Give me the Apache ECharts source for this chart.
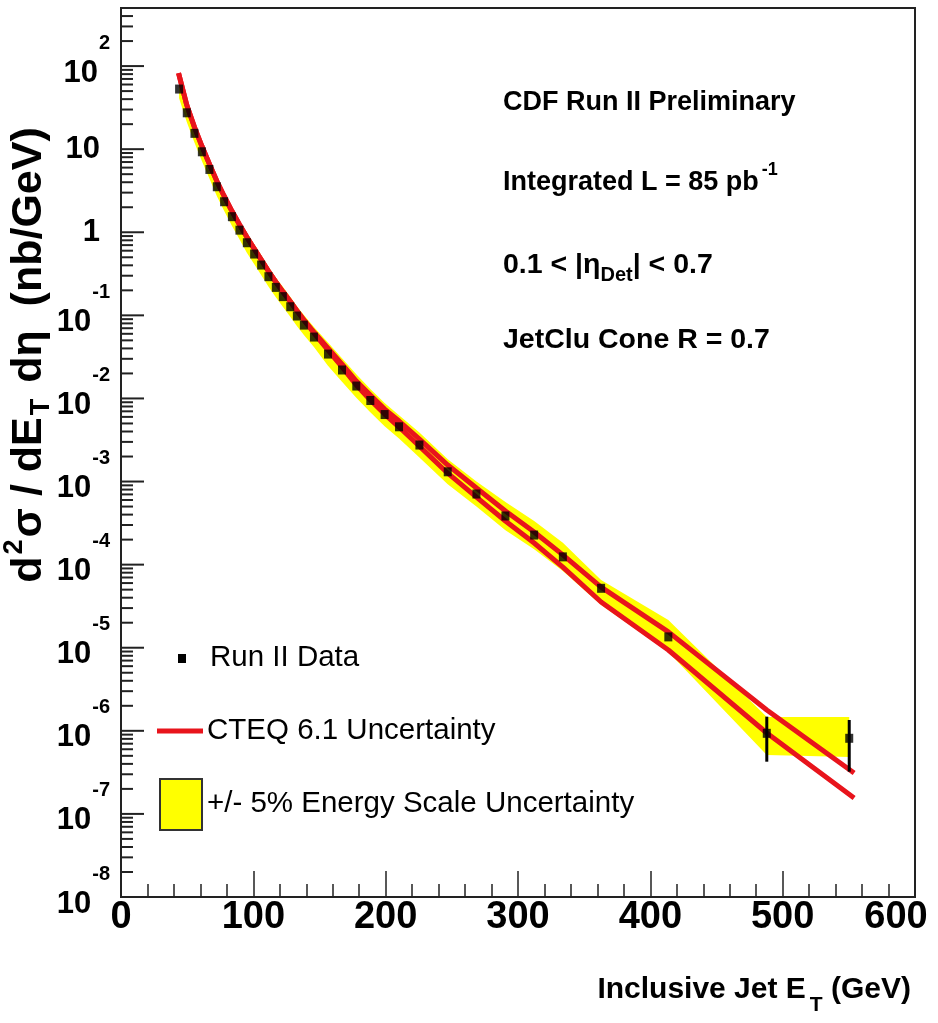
<!DOCTYPE html>
<html><head><meta charset="utf-8">
<script src="https://cdn.jsdelivr.net/npm/echarts@6/dist/echarts.min.js"></script>
<style>html,body{margin:0;padding:0;background:#fff}#c{width:938px;height:1023px}</style>
</head><body><div id="c"></div><script>
// ---- data ----
const xValues = [43.9, 49.7, 55.5, 61.1, 66.8, 72.4, 77.9, 83.8, 89.5, 95.1, 100.6, 105.9, 111.4, 117.0, 122.3, 127.9, 132.9, 138.2, 145.8, 156.4, 167.0, 177.8, 188.4, 199.2, 210.1, 225.5, 246.9, 268.6, 290.5, 312.2, 333.9, 362.8, 413.6, 488.0, 550.3];
const dataValues = [52.9, 27.4, 15.5, 9.3, 5.7, 3.53, 2.33, 1.54, 1.06, 0.748, 0.547, 0.403, 0.292, 0.217, 0.168, 0.127, 0.0982, 0.0763, 0.0548, 0.0342, 0.0220, 0.0141, 0.00944, 0.00640, 0.00456, 0.00275, 0.00131, 7.08e-4, 3.85e-4, 2.27e-4, 1.24e-4, 5.19e-5, 1.35e-5, 9.33e-7, 8.13e-7];
const errLow  = [null,null,null,null,null,null,null,null,null,null,null,null,null,null,null,null,null,null,null,null,null,null,null,null,null,null,null,null,null,null,null,null,null, 4.25e-7, 3.22e-7];
const errHigh = [null,null,null,null,null,null,null,null,null,null,null,null,null,null,null,null,null,null,null,null,null,null,null,null,null,null,null,null,null,null,null,null,null, 1.48e-6, 1.35e-6];
const bandHigh = [68.1, 35.3, 20.0, 12.0, 7.34, 4.55, 3.00, 1.98, 1.37, 0.986, 0.721, 0.531, 0.385, 0.286, 0.221, 0.167, 0.129, 0.101, 0.0722, 0.0472, 0.0304, 0.0195, 0.0130, 0.00883, 0.00629, 0.00389, 0.00185, 1.0e-3, 5.69e-4, 3.36e-4, 1.83e-4, 6.53e-5, 2.15e-5, 1.47e-6, 1.47e-6];
const bandLow  = [41.1, 21.3, 12.0, 7.22, 4.43, 2.74, 1.81, 1.20, 0.823, 0.568, 0.415, 0.306, 0.222, 0.165, 0.127, 0.0964, 0.0745, 0.0579, 0.0416, 0.0248, 0.0159, 0.0102, 0.00684, 0.00464, 0.00330, 0.00195, 9.27e-4, 5.01e-4, 2.60e-4, 1.53e-4, 8.38e-5, 3.27e-5, 8.87e-6, 5.12e-7, 4.84e-7];
const cteqX    = [43.5, 49.7, 55.5, 61.1, 66.8, 72.4, 77.9, 83.8, 89.5, 95.1, 100.6, 105.9, 111.4, 117.0, 122.3, 127.9, 132.9, 138.2, 145.8, 156.4, 167.0, 177.8, 188.4, 199.2, 210.1, 225.5, 246.9, 268.6, 290.5, 312.2, 333.9, 362.8, 413.6, 488.0, 554.0];
const cteqHigh = [82.4, 34.0, 18.4, 10.9, 6.62, 4.13, 2.73, 1.80, 1.24, 0.875, 0.637, 0.469, 0.341, 0.252, 0.193, 0.147, 0.114, 0.0877, 0.0630, 0.0404, 0.0259, 0.0162, 0.0110, 0.00745, 0.00535, 0.00324, 0.00158, 8.36e-4, 4.42e-4, 2.47e-4, 1.31e-4, 5.37e-5, 1.55e-5, 1.78e-6, 3.10e-7];
const cteqLow  = [82.4, 34.0, 18.4, 10.9, 6.62, 4.13, 2.73, 1.80, 1.24, 0.875, 0.637, 0.469, 0.341, 0.252, 0.193, 0.147, 0.114, 0.0877, 0.0612, 0.0382, 0.0239, 0.0145, 0.00957, 0.00649, 0.00453, 0.00267, 0.00126, 6.50e-4, 3.35e-4, 1.82e-4, 9.35e-5, 3.55e-5, 9.38e-6, 9.42e-7, 1.55e-7];
// axis ticks and labels
const xTickLabels = ['0', '100', '200', '300', '400', '500', '600'];
const yTickExponents = [-8, -7, -6, -5, -4, -3, -2, -1, 0, 1, 2];
const yTickLabels = ['10^-8', '10^-7', '10^-6', '10^-5', '10^-4', '10^-3', '10^-2', '10^-1', '1', '10', '10^2'];
const yMinorMultipliers = [2, 3, 4, 5, 6, 7, 8, 9];
const Y_MIN = 1e-8, Y_MAX = 500;

// ---- build ----
const FN = "'Liberation Sans', Arial, sans-serif";
const RED = '#e8141c';
const yTicks = [];
yTickExponents.forEach((e, k) => {
  yTicks.push([0, Math.pow(10, e), 1, k]);
  yMinorMultipliers.forEach(m => {
    const v = m * Math.pow(10, e);
    if (v < Y_MAX) yTicks.push([0, v, 0, -1]);
  });
});
const labelRich = (lab) => {
  const parts = lab.split('^');
  return parts.length === 2 ? '{b|' + parts[0] + '}{e|' + parts[1] + '}' : '{p|' + lab + '}';
};
const RICH_Y = {
  p: {fontFamily: FN, fontSize: 31, fontWeight: 'bold', fill: '#000', padding: [0, 10, 0, 0]},
  b: {fontFamily: FN, fontSize: 31, fontWeight: 'bold', fill: '#000', padding: [14, 0, 0, 0]},
  e: {fontFamily: FN, fontSize: 20, fontWeight: 'bold', fill: '#000', padding: [0, 0, 46, 1]}
};

const chart = echarts.init(document.getElementById('c'), null, {renderer: 'canvas'});
const txt = (t, x, y, extra) => Object.assign({
  type: 'text', x: x, y: y, silent: true,
  style: Object.assign({text: t, fill: '#000', fontFamily: FN, fontSize: 27, fontWeight: 'bold', verticalAlign: 'middle'}, extra || {})
});
const LEG = {fontWeight: 'normal', fontSize: 29.5};

chart.setOption({
  animation: false,
  backgroundColor: '#fff',
  grid: {left: 121, right: 23, top: 8, bottom: 126, outerBoundsMode: 'none', containLabel: false,
    show: true, borderColor: '#222', borderWidth: 2, backgroundColor: 'transparent'},
  xAxis: {
    type: 'value', min: 0, max: 600, interval: 100,
    axisLine: {show: true, onZero: false, lineStyle: {color: '#222', width: 2}},
    axisTick: {show: true, inside: true, length: 26, lineStyle: {color: '#222', width: 1.5}},
    minorTick: {show: true, splitNumber: 5, length: 13, lineStyle: {color: '#222', width: 1.5}},
    splitLine: {show: false},
    axisLabel: {margin: 2, color: '#000', fontFamily: FN, fontSize: 38, fontWeight: 'bold', interval: 0,
      formatter: v => {
        const i = Math.round(v / 100);
        if (xTickLabels[i] === undefined) return '';
        return i === xTickLabels.length - 1 ? '{last|' + xTickLabels[i] + '}' : xTickLabels[i];
      },
      rich: {last: {fontFamily: FN, fontSize: 38, fontWeight: 'bold', color: '#000', padding: [0, 38, 0, 0]}}
    }
  },
  yAxis: {
    type: 'log', logBase: 10, min: Y_MIN, max: Y_MAX,
    axisLine: {show: true, onZero: false, lineStyle: {color: '#222', width: 2}},
    axisTick: {show: false}, minorTick: {show: false}, splitLine: {show: false},
    axisLabel: {show: false}
  },
  series: [
    {
      name: '+/- 5% Energy Scale Uncertainty', type: 'custom', silent: true, z: 1,
      data: xValues.map((x, i) => [x, bandLow[i], bandHigh[i]]),
      encode: {x: 0, y: [1, 2]},
      renderItem: (params, api) => {
        if (params.dataIndex !== 0) return null;
        const pts = [];
        for (let i = 0; i < xValues.length; i++) pts.push(api.coord([xValues[i], bandHigh[i]]));
        for (let i = xValues.length - 1; i >= 0; i--) pts.push(api.coord([xValues[i], bandLow[i]]));
        return {type: 'polygon', shape: {points: pts}, style: {fill: '#ffff00', stroke: null}};
      }
    },
    {name: 'CTEQ 6.1 Uncertainty', type: 'line', z: 2, showSymbol: false, symbol: 'none', silent: true,
      data: cteqX.map((x, i) => [x, cteqHigh[i]]), lineStyle: {color: RED, width: 5}},
    {name: 'CTEQ 6.1 Uncertainty (low)', type: 'line', z: 2, showSymbol: false, symbol: 'none', silent: true,
      data: cteqX.map((x, i) => [x, cteqLow[i]]), lineStyle: {color: RED, width: 5}},
    {
      name: 'errors', type: 'custom', z: 3, silent: true,
      data: xValues.map((x, i) => [x, errLow[i], errHigh[i]]).filter(d => d[1] != null),
      encode: {x: 0, y: [1, 2]},
      renderItem: (params, api) => {
        const a = api.coord([api.value(0), api.value(1)]);
        const b = api.coord([api.value(0), api.value(2)]);
        return {type: 'line', shape: {x1: a[0], y1: a[1], x2: b[0], y2: b[1]}, style: {stroke: '#000', lineWidth: 3}};
      }
    },
    {name: 'Run II Data', type: 'scatter', z: 4, symbol: 'rect', symbolSize: [8, 9], silent: true,
      itemStyle: {color: '#000'}, data: xValues.map((x, i) => [x, dataValues[i]])},
    {
      name: 'yticks', type: 'custom', z: 5, silent: true, clip: false,
      data: yTicks, encode: {x: 0, y: 1},
      renderItem: (params, api) => {
        const p = api.coord([0, api.value(1)]);
        const major = api.value(2) === 1;
        const children = [{type: 'line', shape: {x1: p[0], y1: p[1], x2: p[0] + (major ? 23 : 12), y2: p[1]},
          style: {stroke: '#222', lineWidth: 2}}];
        if (major) {
          children.push({type: 'text', x: p[0] - 11, y: p[1],
            style: {text: labelRich(yTickLabels[api.value(3)]), align: 'right', verticalAlign: 'middle', rich: RICH_Y}});
        }
        return {type: 'group', children: children};
      }
    }
  ],
  graphic: [
    // axis titles
    {type: 'text', x: 29, y: 355, rotation: Math.PI / 2, silent: true,
      style: {text: '{n|d}{sup|2}{n|σ / dE}{sub|T}{n| dη  (nb/GeV)}', align: 'center', verticalAlign: 'middle',
        rich: {
          n: {fontFamily: FN, fontSize: 43, fontWeight: 'bold', fill: '#000'},
          sup: {fontFamily: FN, fontSize: 27, fontWeight: 'bold', fill: '#000', padding: [0, 2, 28, 2]},
          sub: {fontFamily: FN, fontSize: 27, fontWeight: 'bold', fill: '#000', padding: [26, 4, 0, 2]}
        }}},
    {type: 'text', x: 911, y: 990, silent: true,
      style: {text: '{n|Inclusive Jet E}{sub|T}{n| (GeV)}', align: 'right', verticalAlign: 'middle',
        rich: {
          n: {fontFamily: FN, fontSize: 30, fontWeight: 'bold', fill: '#000'},
          sub: {fontFamily: FN, fontSize: 21, fontWeight: 'bold', fill: '#000', padding: [30, 0, 0, 4]}
        }}},
    // info block
    txt('CDF Run II Preliminary', 503, 103),
    {type: 'text', x: 503, y: 183, silent: true,
      style: {text: '{n|Integrated L = 85 pb}{sup|-1}', verticalAlign: 'middle',
        rich: {
          n: {fontFamily: FN, fontSize: 27, fontWeight: 'bold', fill: '#000'},
          sup: {fontFamily: FN, fontSize: 18, fontWeight: 'bold', fill: '#000', padding: [0, 0, 26, 3]}
        }}},
    {type: 'text', x: 503, y: 265, silent: true,
      style: {text: '{n|0.1 < |η}{sub|Det}{n|| < 0.7}', verticalAlign: 'middle',
        rich: {
          n: {fontFamily: FN, fontSize: 28.5, fontWeight: 'bold', fill: '#000'},
          sub: {fontFamily: FN, fontSize: 20, fontWeight: 'bold', fill: '#000', padding: [20, 0, 0, 0]}
        }}},
    txt('JetClu Cone R = 0.7', 503, 340, {fontSize: 28.5}),
    // legend
    {type: 'rect', shape: {x: 178, y: 654, width: 8, height: 9}, style: {fill: '#000'}, silent: true},
    txt('Run II Data', 210, 658, LEG),
    {type: 'line', shape: {x1: 157, y1: 731, x2: 203, y2: 731}, style: {stroke: RED, lineWidth: 5}, silent: true},
    txt('CTEQ 6.1 Uncertainty', 207, 731, LEG),
    {type: 'rect', shape: {x: 160, y: 779, width: 42, height: 51}, style: {fill: '#ffff00', stroke: '#333', lineWidth: 2}, silent: true},
    txt('+/- 5% Energy Scale Uncertainty', 207, 804, LEG)
  ]
});
</script></body></html>
